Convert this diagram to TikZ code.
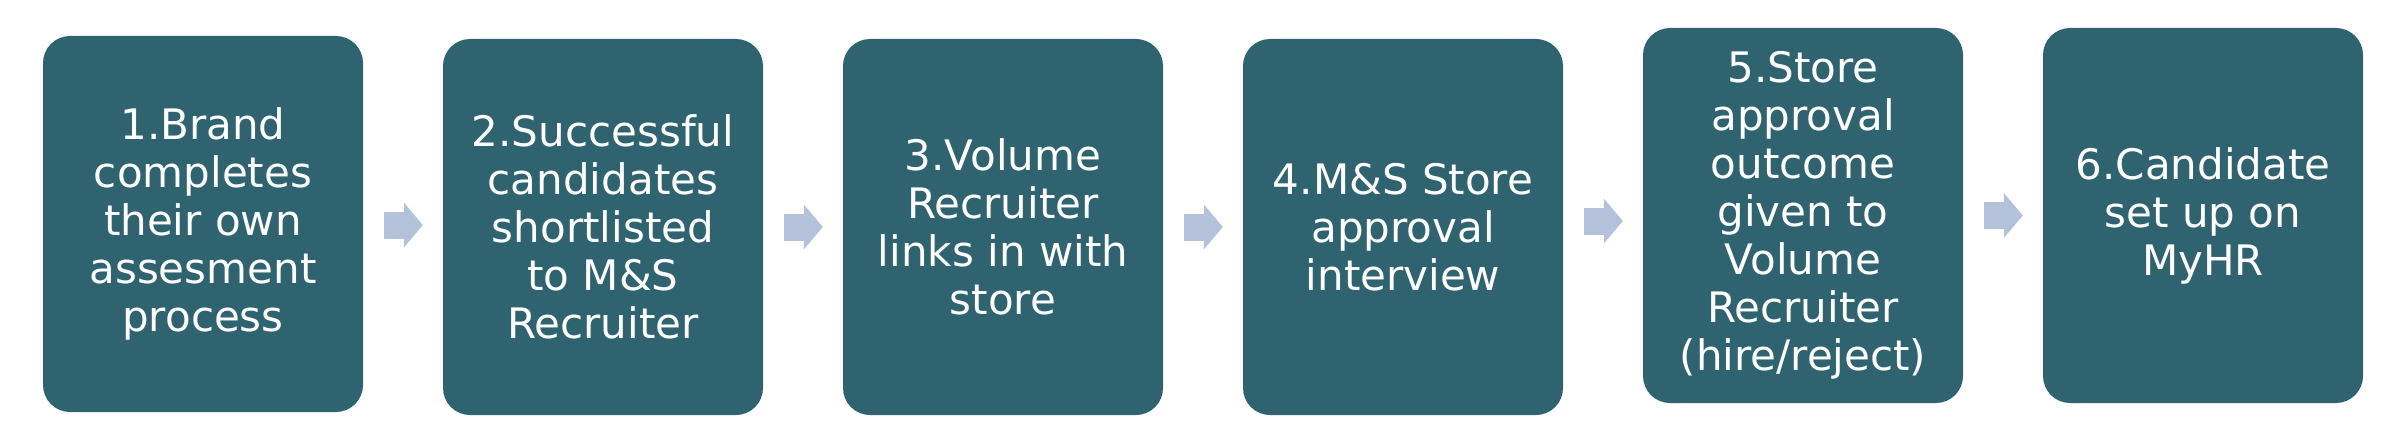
\documentclass[tikz,border=0pt]{standalone}
\usepackage{fontspec}
\setmainfont{DejaVu Sans}
\usetikzlibrary{arrows.meta}
\definecolor{stageteal}{HTML}{2F6370}
\definecolor{flowblue}{HTML}{B4C1DB}

\begin{document}
\begin{tikzpicture}[x=1pt,y=-1pt,node distance=400pt,
    stage node/.style={rectangle,rounded corners=27pt,fill=stageteal,text=white,minimum width=320pt,minimum height=376pt,inner sep=0pt,align=center,font=\fontsize{42}{48}\selectfont},
    flow/.style={draw=flowblue,line width=27pt,-{Triangle[length=19pt,width=45pt,line width=0pt]},shorten <=21pt,shorten >=20pt}]

                        \useasboundingbox (0,0) rectangle (2400,444);

                        \node[stage node] (s1) at (203,224) {1.Brand\\completes\\their own\\assesment\\process};
                        \node[stage node] (s2) [right of = s1, yshift=-3pt] {2.Successful\\candidates\\shortlisted\\to M\&S\\Recruiter};
                        \node[stage node] (s3) [right of = s2] {3.Volume\\Recruiter\\links in with\\store};
                        \node[stage node] (s4) [right of = s3] {4.M\&S Store\\approval\\interview};
                        \node[stage node, minimum height=375pt] (s5) [right of = s4, yshift=11.5pt] {5.Store\\approval\\outcome\\given to\\Volume\\Recruiter\\(hire/reject)};
                        \node[stage node, minimum height=375pt] (s6) [right of = s5] {6.Candidate\\set up on\\MyHR};

                        \draw[flow] ([yshift=-1pt]s1.east) to ([yshift=2pt]s2.west);
                        \draw[flow] (s2.east) to (s3.west);
                        \draw[flow] (s3.east) to (s4.west);
                        \draw[flow] ([yshift=6pt]s4.east) to ([yshift=-5.5pt]s5.west);
                        \draw[flow] (s5.east) to (s6.west);

                    \end{tikzpicture}
\end{document}
